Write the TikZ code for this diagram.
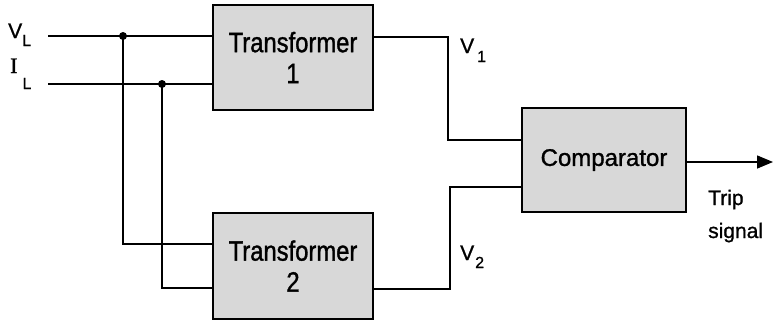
\documentclass[tikz,border=0pt]{standalone}
\usepackage{fontspec}
\setmainfont[FakeBold=1]{Liberation Sans}
\newfontfamily\tfont[FakeStretch=0.85,FakeBold=1.2]{Liberation Sans}
\newfontfamily\cfont[FakeBold=1.2]{Liberation Sans}
\newfontfamily\serifI[FakeBold=1]{Liberation Serif}
\usetikzlibrary{arrows.meta}
\definecolor{boxgray}{RGB}{216,216,216}
\tikzset{
  block/.style={draw=black, line width=1.8pt, fill=boxgray, inner sep=0pt, align=center},
  wire/.style={line width=1.5pt},
  jdot/.style={circle, fill=black, inner sep=0pt, minimum size=8pt},
  lbl/.style={inner sep=0pt, anchor=base west, font=\fontsize{21}{21}\selectfont}
}
\begin{document}
\begin{tikzpicture}[x=1pt,y=-1pt]
\useasboundingbox (0,0) rectangle (773,324);
\node[block, minimum width=160pt, minimum height=105pt,
      font=\tfont\fontsize{28}{31}\selectfont] (t1) at (293,57.5) {Transformer\\1};
\node[block, minimum width=160pt, minimum height=106pt,
      font=\tfont\fontsize{28}{31}\selectfont] (t2) at (293,266) {Transformer\\2};
\node[block, minimum width=164pt, minimum height=104pt,
      font=\cfont\fontsize{24}{26}\selectfont] (comp) at (604,160) {Comparator};
% inputs
\coordinate (vl) at (48,36);
\coordinate (il) at (48,84);
\coordinate (j1) at (123,36);
\coordinate (j2) at (162,84);
\coordinate (t2a) at (213,244);
\coordinate (t2b) at (213,288);
\draw[wire] (vl) -- (vl -| t1.west);
\draw[wire] (il) -- (il -| t1.west);
\draw[wire] (j1) |- (t2a);
\draw[wire] (j2) |- (t2b);
\node[jdot] (d1) at (j1) {};
\node[jdot] (d2) at (j2) {};
% outputs
\coordinate (o1) at (373,37);
\coordinate (c1) at (522,140);
\coordinate (o2) at (373,289);
\coordinate (c2) at (522,187);
\draw[wire] (o1) -- (448,37) |- (c1);
\draw[wire] (o2) -- (450,289) |- (c2);
\coordinate (trip) at (773,162);
\draw[wire, -{Triangle[length=16pt,width=13pt]}] (comp.east |- trip) -- (trip);
% labels
\node[lbl] (lvl) at (8,38) {V\raisebox{-8pt}{\fontsize{16}{16}\selectfont L}};
\node[lbl] (lil) at (10,73) {{\serifI\fontsize{22}{22}\selectfont I}\hspace{5pt}\raisebox{-16pt}{\fontsize{16}{16}\selectfont L}};
\node[lbl] (lv1) at (460,53) {V\hspace{3pt}\raisebox{-9pt}{\fontsize{16}{16}\selectfont 1}};
\node[lbl] (lv2) at (460,260) {V\hspace{1pt}\raisebox{-8pt}{\fontsize{16}{16}\selectfont 2}};
\node[inner sep=0pt, anchor=base west, align=left, font=\fontsize{21}{33}\selectfont] (tr) at (708,238) {Trip\\signal};
\end{tikzpicture}
\end{document}
